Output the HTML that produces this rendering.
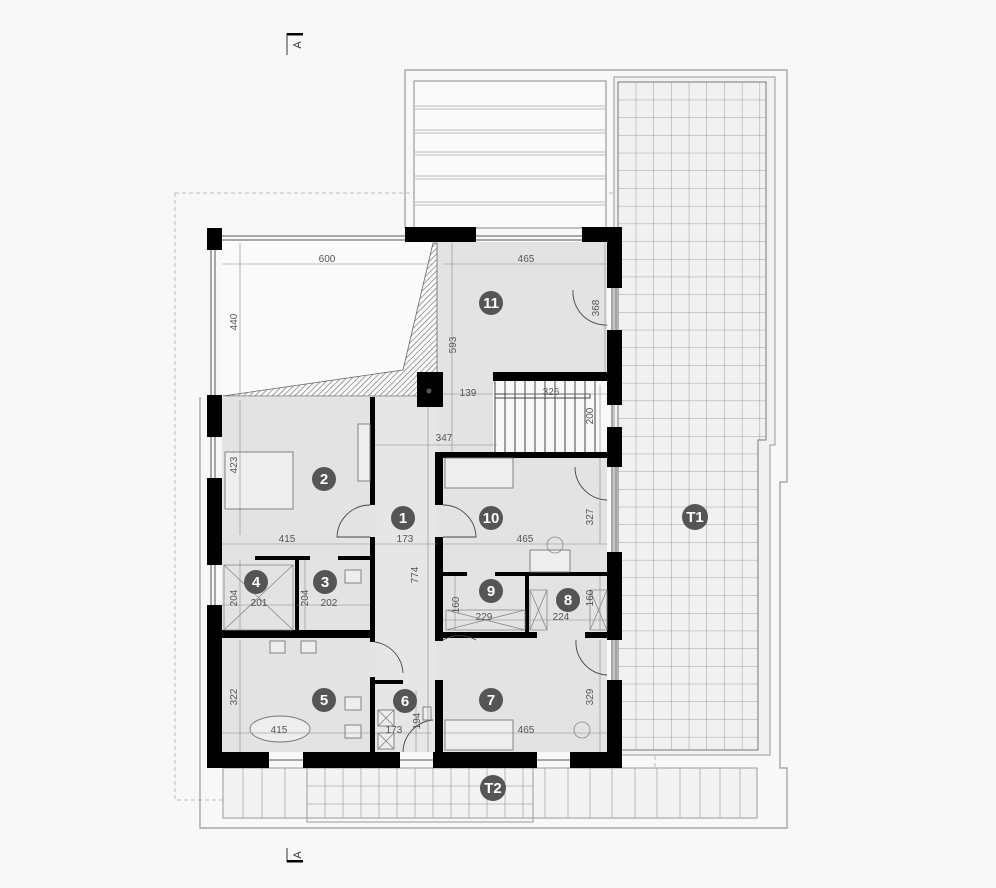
<!DOCTYPE html>
<html><head><meta charset="utf-8"><style>
html,body{margin:0;padding:0;background:#f8f8f8}
svg{display:block}
text{font-family:"Liberation Sans",sans-serif}
.d{font-size:10px;fill:#555;text-anchor:middle}
.bt{font-size:15px;font-weight:bold;fill:#fff;text-anchor:middle}
</style></head><body>
<svg width="996" height="888" viewBox="0 0 996 888" xmlns="http://www.w3.org/2000/svg">
<defs>
<pattern id="h" width="4" height="4" patternUnits="userSpaceOnUse" patternTransform="rotate(45)"><line x1="0" y1="0" x2="0" y2="4" stroke="#666" stroke-width="1.2"/></pattern>
<pattern id="g" width="17.7" height="17.7" patternUnits="userSpaceOnUse" x="618" y="82"><path d="M0 0H17.7M0 0V17.7" stroke="#888" stroke-width="0.8" fill="none"/></pattern>
</defs>
<rect width="996" height="888" fill="#f8f8f8"/>
<rect x="175" y="193" width="480" height="607" fill="none" stroke="#bbb" stroke-dasharray="4,3" stroke-width="1"/>
<path d="M405 228V70H787V482H780V768H787V828H200V397" fill="none" stroke="#999" stroke-width="1.2"/>
<rect x="414" y="81" width="192" height="147" fill="#fafafa" stroke="#888"/>
<g stroke="#bbb" stroke-width="1"><path d="M414 106H606M414 109H606M414 130H606M414 133H606M414 152H606M414 155H606M414 176H606M414 179H606M414 202H606M414 205H606"/></g>
<path d="M614 77H775V445H770V755H614Z" fill="#f1f1f1" stroke="#999" stroke-width="1"/>
<path d="M618 82H766V440H758V750H618Z" fill="url(#g)" stroke="#777" stroke-width="1"/>
<rect x="223" y="768" width="534" height="50" fill="#f3f3f3" stroke="#999"/>
<rect x="307" y="768" width="226" height="54" fill="none" stroke="#999"/>
<g stroke="#aaa" stroke-width="0.8"><path d="M243 768V818M262 768V818M285 768V818M325 768V818M343 768V818M361 768V818M379 768V818M397 768V818M415 768V818M433 768V818M451 768V818M469 768V818M487 768V818M505 768V818M523 768V818M545 768V818M568 768V818M590 768V818M612 768V818M635 768V818M657 768V818M680 768V818M700 768V818M720 768V818M740 768V818M307 786H533M307 804H533"/></g>
<g fill="#e3e3e3">
<rect x="222" y="397" width="153" height="355"/>
<rect x="375" y="397" width="62" height="355" fill="#e6e6e6"/>
<rect x="437" y="242" width="170" height="510"/>
</g>
<rect x="222" y="240" width="215" height="157" fill="#fafafa"/>
<polygon points="223,396 403,370 433,243 437,243 437,396" fill="url(#h)" stroke="#666" stroke-width="0.8"/>
<rect x="493" y="380" width="114" height="72" fill="#f8f8f8"/>
<g stroke="#444" stroke-width="1"><path d="M495 380V452M505 380V452M515 380V452M525 380V452M535 380V452M545 380V452M555 380V452M565 380V452M575 380V452M585 380V452M595 380V452"/><path d="M495 394H590V398H495" fill="none"/></g>
<g fill="#000">
<rect x="207" y="228" width="15" height="22"/>
<rect x="207" y="395" width="15" height="42"/>
<rect x="207" y="478" width="15" height="87"/>
<rect x="207" y="605" width="15" height="163"/>
<rect x="207" y="752" width="62" height="16"/>
<rect x="303" y="752" width="97" height="16"/>
<rect x="433" y="752" width="104" height="16"/>
<rect x="570" y="752" width="52" height="16"/>
<rect x="405" y="227" width="71" height="15"/>
<rect x="582" y="227" width="40" height="15"/>
<rect x="607" y="227" width="15" height="61"/>
<rect x="607" y="330" width="15" height="75"/>
<rect x="607" y="427" width="15" height="40"/>
<rect x="607" y="552" width="15" height="88"/>
<rect x="607" y="680" width="15" height="88"/>
<rect x="417" y="372" width="26" height="35"/>
<rect x="493" y="372" width="114" height="9"/>
<rect x="370" y="397" width="5" height="108"/>
<rect x="370" y="537" width="5" height="105"/>
<rect x="222" y="630" width="153" height="8"/>
<rect x="295" y="556" width="4" height="76"/>
<rect x="255" y="556" width="55" height="4"/>
<rect x="338" y="556" width="32" height="4"/>
<rect x="370" y="677" width="5" height="75"/>
<rect x="370" y="680" width="33" height="4"/>
<rect x="435" y="452" width="8" height="53"/>
<rect x="435" y="537" width="8" height="104"/>
<rect x="435" y="680" width="8" height="88"/>
<rect x="435" y="452" width="172" height="6"/>
<rect x="443" y="572" width="24" height="4"/>
<rect x="495" y="572" width="112" height="4"/>
<rect x="525" y="572" width="4" height="66"/>
<rect x="437" y="632" width="100" height="6"/>
<rect x="585" y="632" width="22" height="6"/>
</g>
<circle cx="429" cy="391" r="2.5" fill="#555"/>
<g stroke="#555" stroke-width="1" fill="none">
<path d="M222 236H405M222 240H405M476 236H582M476 240H582"/>
<path d="M211 250V395M215 250V395M211 437V478M215 437V478M211 565V605M215 565V605"/>
<path d="M612 288V330M616 288V330M612 405V427M612 467V552M616 467V552M612 640V680M616 640V680"/>
<path d="M269 760H303M537 760H570M400 760H433"/>
</g>
<g stroke="#444" stroke-width="0.9" fill="none">
<path d="M370 505A33 33 0 0 0 337 537H370"/>
<path d="M443 505A33 33 0 0 1 476 537H443"/>
<path d="M573 290A33 33 0 0 0 607 325"/>
<path d="M575 467A33 33 0 0 0 607 500"/>
<path d="M375 642A33 33 0 0 1 403 673"/>
<path d="M443 640A33 33 0 0 1 476 640"/>
<path d="M576 640A33 33 0 0 0 607 675"/>
<path d="M403 752A33 33 0 0 1 433 720"/>
</g>
<g stroke="#777" stroke-width="0.9" fill="#eee">
<rect x="225" y="452" width="68" height="57"/>
<rect x="358" y="424" width="12" height="57"/>
<rect x="445" y="458" width="68" height="30"/>
<rect x="445" y="720" width="68" height="30"/>
<rect x="530" y="550" width="40" height="22"/>
<ellipse cx="280" cy="729" rx="30" ry="13"/>
<rect x="345" y="570" width="16" height="13"/>
<rect x="345" y="697" width="16" height="13"/>
<rect x="345" y="725" width="16" height="13"/>
<rect x="270" y="641" width="15" height="12"/>
<rect x="301" y="641" width="15" height="12"/>
<rect x="378" y="710" width="16" height="16"/>
<rect x="378" y="733" width="16" height="16"/>
<rect x="423" y="707" width="8" height="13"/>
</g>
<g stroke="#888" stroke-width="0.8" fill="none">
<path d="M224 565H293V630H224ZM224 565L293 630M293 565L224 630"/>
<path d="M446 610H525V630H446ZM446 610L525 630M525 610L446 630"/>
<path d="M530 590H547V630H530ZM530 590L547 630M547 590L530 630M590 590H607V630H590ZM590 590L607 630M607 590L590 630"/>
<path d="M378 710L394 726M394 710L378 726M378 733L394 749M394 733L378 749"/>
<circle cx="555" cy="545" r="8"/><circle cx="582" cy="730" r="8"/>
</g>
<g stroke="#888" stroke-width="0.6" fill="none">
<path d="M222 264H433M240 243V395M443 264H607M452 243V452M605 243V372M443 394H493M507 394H607M600 385V452M375 445H497M240 400V535M222 544H370M375 544H437M443 544H607M600 458V544M428 407V752M240 560V630M222 605H295M305 560V630M297 605H370M455 576V630M443 620H525M529 620H607M600 576V630M240 640V752M222 733H370M375 733H432M416 690V752M443 733H607M600 640V752"/>
</g>
<g class="d">
<text x="327" y="262">600</text>
<text x="526" y="262">465</text>
<text x="468" y="396">139</text>
<text x="551" y="395">326</text>
<text x="444" y="441">347</text>
<text x="287" y="542">415</text>
<text x="405" y="542">173</text>
<text x="525" y="542">465</text>
<text x="259" y="606">201</text>
<text x="329" y="606">202</text>
<text x="484" y="620">229</text>
<text x="561" y="620">224</text>
<text x="279" y="733">415</text>
<text x="394" y="733">173</text>
<text x="526" y="733">465</text>
<text transform="translate(237,322) rotate(-90)">440</text>
<text transform="translate(599,308) rotate(-90)">368</text>
<text transform="translate(456,345) rotate(-90)">593</text>
<text transform="translate(593,416) rotate(-90)">200</text>
<text transform="translate(237,465) rotate(-90)">423</text>
<text transform="translate(593,517) rotate(-90)">327</text>
<text transform="translate(418,575) rotate(-90)">774</text>
<text transform="translate(237,598) rotate(-90)">204</text>
<text transform="translate(308,598) rotate(-90)">204</text>
<text transform="translate(459,605) rotate(-90)">160</text>
<text transform="translate(593,598) rotate(-90)">160</text>
<text transform="translate(237,697) rotate(-90)">322</text>
<text transform="translate(420,721) rotate(-90)">194</text>
<text transform="translate(593,697) rotate(-90)">329</text>
</g>
<g fill="#555">
<circle cx="491" cy="303" r="12"/><circle cx="324" cy="479" r="12"/><circle cx="403" cy="518" r="12"/><circle cx="491" cy="518" r="12"/>
<circle cx="256" cy="582" r="12"/><circle cx="325" cy="582" r="12"/><circle cx="491" cy="591" r="12"/><circle cx="568" cy="600" r="12"/>
<circle cx="324" cy="700" r="12"/><circle cx="405" cy="701" r="12"/><circle cx="491" cy="700" r="12"/><circle cx="695" cy="517" r="13"/><circle cx="493" cy="788" r="13"/>
</g>
<g class="bt">
<text x="491" y="308">11</text><text x="324" y="484">2</text><text x="403" y="523">1</text><text x="491" y="523">10</text>
<text x="256" y="587">4</text><text x="325" y="587">3</text><text x="491" y="596">9</text><text x="568" y="605">8</text>
<text x="324" y="705">5</text><text x="405" y="706">6</text><text x="491" y="705">7</text><text x="695" y="522">T1</text><text x="493" y="793">T2</text>
</g>
<g stroke="#333" fill="none"><path d="M287 33V55M287 848V862"/></g>
<rect x="287" y="33" width="16" height="2.5" fill="#000"/>
<rect x="287" y="860" width="16" height="2.5" fill="#000"/>
<text transform="translate(301,45) rotate(-90)" style="font-size:11px;fill:#333;text-anchor:middle">A</text>
<text transform="translate(301,855) rotate(-90)" style="font-size:11px;fill:#333;text-anchor:middle">A</text>
</svg>
</body></html>
